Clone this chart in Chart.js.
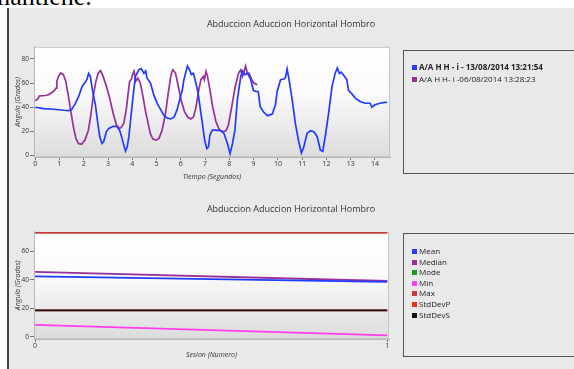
<!DOCTYPE html>
<html>
<head>
<meta charset="utf-8">
<script src="https://cdn.jsdelivr.net/npm/chart.js@4.4.1/dist/chart.umd.min.js"></script>
<style>
  html, body { margin:0; padding:0; background:#fff; width:574px; height:369px; overflow:hidden; position:relative; font-family:'Open Sans', sans-serif; }
  #top-text { position:absolute; left:-10px; top:-16px; font-family:'Liberation Serif', serif; font-size:26px; line-height:26px; color:#000; }
  #panel { position:absolute; left:7px; top:8px; width:567px; height:361px; background:#e9e9e9; border-left:2px solid #444; box-sizing:border-box; }
  canvas { position:absolute; left:8px; }
  #c1 { top:8px; }
  #c2 { top:193px; }
  .legend { position:absolute; left:403px; width:180px; border:1.5px solid #555; box-sizing:border-box; font-size:8px; color:#222; padding-left:8px; }
  .legend div { white-space:nowrap; }
  .legend span { display:inline-block; width:5px; height:5px; margin-right:2px; vertical-align:0px; }
  #leg1 { top:50px; height:124px; padding-top:10px; }
  #leg1 div { height:11.5px; line-height:11.5px; }
  #leg1 div:first-child { font-weight:bold; }
  #leg2 { top:233px; height:124px; padding-top:12px; }
  #leg2 div { height:10.6px; line-height:10.6px; }
</style>
</head>
<body>
<div id="top-text">mantiene.</div>
<div id="panel"></div>
<canvas id="c1" width="566" height="180"></canvas>
<canvas id="c2" width="566" height="174"></canvas>
<div id="leg1" class="legend"></div>
<div id="leg2" class="legend"></div>
<script>
// top chart: angle over time for two recordings
var chartTitle = 'Abduccion Aduccion Horizontal Hombro';
var seriesNames = ['A/A H H - i - 13/08/2014 13:21:54', 'A/A H H- i -06/08/2014 13:28:23'];

var blueTime = [0,0.34,0.76,1.17,1.38,1.5,1.65,1.79,1.93,2.07,
  2.13,2.2,2.27,2.38,2.48,2.58,2.66,2.75,2.82,2.93,
  3.03,3.24,3.37,3.48,3.58,3.65,3.72,3.79,3.86,3.93,
  4.0,4.06,4.13,4.27,4.37,4.48,4.55,4.61,4.75,4.89,
  5.03,5.17,5.31,5.44,5.58,5.72,5.85,5.99,6.06,6.13,
  6.27,6.38,6.43,6.52,6.61,6.71,6.79,6.89,6.98,7.07,
  7.14,7.2,7.3,7.44,7.65,7.78,7.92,8.03,8.13,8.23,
  8.33,8.47,8.54,8.64,8.75,8.88,8.99,9.09,9.19,9.27,
  9.41,9.57,9.77,9.9,9.97,10.11,10.25,10.32,10.38,10.45,
  10.59,10.72,10.86,10.97,11.07,11.2,11.34,11.48,11.62,11.75,
  11.85,11.95,12.09,12.23,12.36,12.45,12.53,12.61,12.75,12.84,
  12.91,13.05,13.19,13.39,13.59,13.8,13.87,14.0,14.21,14.41,
  14.5];
var blueAngle = [40,38.9,38.3,37.5,37.2,38,43,49,57,61,
  63,68,65.5,51.7,42,26.7,15.5,10,11.4,19.7,
  22.5,24.4,23.9,21,14,8.6,3.6,7.2,15.6,29,
  43,54,65.5,71,72,68,70,64,60,50,
  43,38,33,31,30.3,31.7,38,49,54,63,
  74,70,67,68,61,52,40.5,26.7,12.8,5.8,
  7.2,17,21,21,20.5,18.3,10,1.7,10,21,
  46,65.5,70,67,68,63,54,53,53,40.5,
  36,33,34.4,42,53,62.8,63.3,65,71.7,64,
  46,26.7,11.4,2.2,7.2,18.3,20.5,19.7,15.6,4.4,
  3.6,15.6,35,57,68,72.5,68,69,65.5,62.8,
  54,51,47.5,44.7,43.3,43.3,40,42,43.3,44,
  44];

var purpleTime = [0,0.1,0.18,0.41,0.55,0.75,0.86,0.89,0.96,1.05,
  1.16,1.26,1.37,1.46,1.57,1.68,1.78,1.91,2.05,2.19,
  2.28,2.39,2.5,2.6,2.69,2.8,2.94,3.07,3.21,3.35,
  3.46,3.55,3.65,3.76,3.83,3.89,3.96,4.03,4.07,4.14,
  4.23,4.33,4.44,4.55,4.65,4.74,4.85,4.99,5.1,5.23,
  5.37,5.5,5.6,5.67,5.78,5.87,6.01,6.15,6.29,6.42,
  6.53,6.63,6.74,6.83,6.93,6.97,7.04,7.1,7.2,7.31,
  7.45,7.58,7.72,7.86,7.96,8.1,8.24,8.38,8.47,8.54,
  8.61,8.67,8.74,8.81,8.92,9.01,9.15];
var purpleAngle = [45.3,46.7,49.4,49.7,50.3,53,55.8,61.4,65.5,68.3,
  67,61.4,49,37.8,24,14,10,9.4,12.8,21,
  32,49,61.4,68.3,70.3,65.5,57,47.5,35,25.3,
  22.5,23.3,26.7,39,51.7,61.4,62.8,68.3,71,61.4,
  64,60,49,36,27,18.3,13.6,12.8,14.2,21,
  35,54.4,67,71,68.3,60,46,36.4,31.7,30.3,
  32.2,40.5,54.4,62.8,65.5,62.8,69.7,65.5,54.4,40.5,
  28,21.7,19.7,20.5,25.3,40.5,57,68.3,71,65.5,
  69.7,74,68.3,68.3,62.8,60,58.6];

// bottom chart: statistics per session
var sessions = [0, 1];
var statNames = ['Mean', 'Median', 'Mode', 'Min', 'Max', 'StdDevP', 'StdDevS'];
var meanVals = [42.4, 38.6];
var medianVals = [45.6, 39.2];
var modeVals = [];
var minVals = [8.3, 1.0];
var maxVals = [73, 73];
var stdDevPVals = [18.6, 18.6];
var stdDevSVals = [18.6, 18.6];

function zip(xs, ys) {
    var out = [];
    for (var i = 0; i < ys.length; i++) out.push({x: xs[i], y: ys[i]});
    return out;
}

Chart.defaults.font.family = "'Open Sans', sans-serif";
Chart.defaults.color = '#333';

var plotBg = {
    id: 'plotBg',
    beforeDraw: function(chart) {
        var ctx = chart.ctx, a = chart.chartArea;
        var g = ctx.createLinearGradient(0, a.top, 0, a.bottom);
        g.addColorStop(0, '#ffffff');
        g.addColorStop(0.4, '#fbfbfb');
        g.addColorStop(1, '#dcdcdc');
        ctx.save();
        ctx.fillStyle = g;
        ctx.fillRect(a.left, a.top, a.width, a.height);
        ctx.strokeStyle = '#c4c4c4';
        ctx.lineWidth = 1;
        ctx.strokeRect(a.left + 0.5, a.top + 0.5, a.width - 1, a.height - 1);
        ctx.restore();
    }
};

function titleOpts() {
    return {display: true, text: chartTitle, color: '#333', font: {size: 9, weight: 'normal'}, padding: {top: 11, bottom: 17}};
}

function axisX(min, max, height, label, padBottom) {
    return {
        type: 'linear', min: min, max: max,
        afterBuildTicks: function(s) { s.ticks = s.ticks.filter(function(t) { return t.value >= 0 && Number.isInteger(t.value) && t.value <= max; }); },
        afterFit: function(s) { s.height = height; },
        ticks: {stepSize: 1, includeBounds: false, font: {size: 7}, color: '#333', padding: 0, maxRotation: 0, autoSkip: false},
        grid: {drawOnChartArea: false, tickLength: 3, color: '#777'},
        border: {color: '#b8b8b8'},
        title: {display: true, text: label, font: {size: 7, style: 'italic'}, color: '#333', padding: {top: 0, bottom: padBottom}}
    };
}

function axisY(min, max) {
    return {
        min: min, max: max,
        afterBuildTicks: function(s) { s.ticks = s.ticks.filter(function(t) { return t.value >= 0 && t.value <= max && t.value % 20 === 0; }); },
        afterFit: function(s) { s.width = 26; },
        ticks: {stepSize: 20, includeBounds: false, font: {size: 6.5}, color: '#333', padding: 1},
        grid: {drawOnChartArea: false, tickLength: 4, color: '#777'},
        border: {color: '#b8b8b8'},
        title: {display: true, text: 'Angulo (Grados)', font: {size: 7, style: 'italic'}, color: '#333', padding: {top: 6, bottom: 0}}
    };
}

// empty axis on the right keeps room for the framed legend box
function spacer(width) {
    return {
        position: 'right', min: 0, max: 1,
        afterFit: function(s) { s.width = width; },
        ticks: {display: false}, grid: {display: false}, border: {display: false}
    };
}

var chart1 = new Chart(document.getElementById('c1').getContext('2d'), {
    type: 'line',
    data: {
        datasets: [
            {label: seriesNames[0], data: zip(blueTime, blueAngle), borderColor: '#1f3cff', backgroundColor: '#1f3cff', borderWidth: 1.7, pointRadius: 0},
            {label: seriesNames[1], data: zip(purpleTime, purpleAngle), borderColor: '#9a2f9a', backgroundColor: '#9a2f9a', borderWidth: 1.7, pointRadius: 0}
        ]
    },
    options: {
        responsive: false, animation: false,
        plugins: {legend: {display: false}, tooltip: {enabled: false}, title: titleOpts()},
        scales: {x: axisX(-0.05, 14.62, 31, 'Tiempo (Segundos)', 7), y: axisY(-1.2, 90), side: spacer(184)}
    },
    plugins: [plotBg]
});

var statColors = ['#1f3cff', '#9a2f9a', '#1a9a1a', '#ff3cf0', '#c83c3c', '#ff2a10', '#111111'];
var statData = [meanVals, medianVals, modeVals, minVals, maxVals, stdDevPVals, stdDevSVals];
var statSets = [];
for (var i = 0; i < statNames.length; i++) {
    statSets.push({
        label: statNames[i], data: zip(sessions, statData[i]),
        borderColor: statColors[i], backgroundColor: statColors[i],
        borderWidth: 1.8, pointRadius: 0,
        order: statNames[i] == 'StdDevS' ? -1 : i
    });
}

var chart2 = new Chart(document.getElementById('c2').getContext('2d'), {
    type: 'line',
    data: {datasets: statSets},
    options: {
        responsive: false, animation: false,
        plugins: {legend: {display: false}, tooltip: {enabled: false}, title: titleOpts()},
        scales: {x: axisX(-0.003, 1.005, 28, 'Sesion (Numero)', 8), y: axisY(-1.6, 73.8), side: spacer(185)}
    },
    plugins: [plotBg]
});

// legends sit in their own framed boxes on the right
function buildLegend(id, chart) {
    var box = document.getElementById(id);
    chart.data.datasets.forEach(function(ds) {
        var row = document.createElement('div');
        var sw = document.createElement('span');
        sw.style.background = ds.borderColor;
        row.appendChild(sw);
        row.appendChild(document.createTextNode(ds.label));
        box.appendChild(row);
    });
}
buildLegend('leg1', chart1);
buildLegend('leg2', chart2);
</script>
</body>
</html>
